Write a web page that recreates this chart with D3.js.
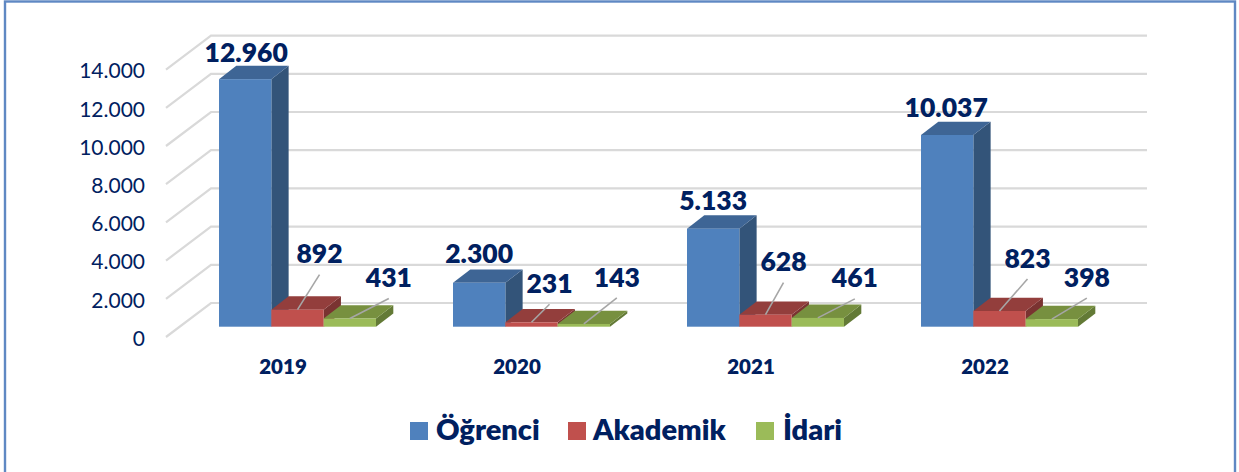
<!DOCTYPE html>
<html><head><meta charset="utf-8">
<script src="https://cdn.jsdelivr.net/npm/d3@7/dist/d3.min.js"></script>
<style>html,body{margin:0;padding:0;background:#fff;overflow:hidden}svg{display:block}text{font-family:Lato,sans-serif;fill:#002060}</style>
</head><body><script>
const years = ["2019","2020","2021","2022"];
const seriesNames = ["Öğrenci","Akademik","İdari"];
const ogrenci = [12960,2300,5133,10037];
const akademik = [892,231,628,823];
const idari = [431,143,461,398];
const yTicks = [0,2000,4000,6000,8000,10000,12000,14000];
const frontColors = ["#4f81bd","#c0504d","#9bbb59"];
const topColors = ["#3e6595","#933e3c","#77903f"];
const sideColors = ["#335479","#7a3331","#637a36"];
const labelDx = [[1,0,0,-1],[22,18,18,28],[39,33,37,35]];
const labelDy = [[-27,-29,-28,-28],[-56,-39,-53,-53],[-41,-47,-40,-42]];

const W=1239,H=472;
const svg=d3.select("body").append("svg").attr("width",W).attr("height",H);
svg.append("rect").attr("x",5).attr("y",1.5).attr("width",1230).attr("height",480)
  .attr("fill","#fff").attr("stroke","#5f88c3").attr("stroke-width",2.4);

const frontY=d3.scaleLinear().domain([0,14000]).range([337,69.6]);
const frontX=d3.scaleBand().domain(years).range([166,1102]);
const depthX=45,depthY=34;
const fmt=d3.formatLocale({decimal:",",thousands:".",grouping:[3],currency:["",""]}).format(",d");

// gridlines (floor-wall)
const grid=svg.append("g").attr("fill","none").attr("stroke","#d9d9d9").attr("stroke-width",2.2);
yTicks.forEach(t=>{
  const y=frontY(t);
  grid.append("path").attr("d",d3.line()([[166,y],[166+depthX,y-depthY],[1147,y-depthY]]));
});

// axes
const ya=svg.append("g").attr("transform","translate(153,1.5)")
  .call(d3.axisLeft(frontY).tickValues(yTicks).tickSize(0).tickPadding(8).tickFormat(fmt));
ya.select(".domain").remove();
ya.selectAll("text").style("font-family","Lato,sans-serif").style("font-size","21px").attr("fill","#002060");
const xa=svg.append("g").attr("transform","translate(0,359)")
  .call(d3.axisBottom(frontX).tickSize(0).tickPadding(0));
xa.select(".domain").remove();
xa.selectAll("text").style("font-family","Lato,sans-serif").style("font-size","20.5px").style("font-weight","800").attr("fill","#002060");

// bars
const series=[ogrenci,akademik,idari];
const baseY=326.7;
const pxPerUnit=(frontY(0)-frontY(14000))/14000;
const barH=v=>v*pxPerUnit;
const barX=d3.scaleBand().domain(seriesNames).range([0,157]);
const groupLeft=y=>frontX(y)+53;
const dx=17.3,dy=13.3;
const bars=svg.append("g");
years.forEach((yr,i)=>{
  seriesNames.forEach((nm,s)=>{
    const v=series[s][i],x=groupLeft(yr)+barX(nm),w=barX.bandwidth(),t=baseY-barH(v);
    const g=bars.append("g");
    g.append("path").attr("fill",sideColors[s]).attr("d",d3.line()([[x+w,t],[x+w+dx,t-dy],[x+w+dx,baseY-dy],[x+w,baseY]])+"Z");
    g.append("path").attr("fill",topColors[s]).attr("d",d3.line()([[x,t],[x+dx,t-dy],[x+w+dx,t-dy],[x+w,t]])+"Z");
    g.append("rect").attr("x",x).attr("y",t).attr("width",w).attr("height",barH(v)).attr("fill",frontColors[s]);
  });
});

// labels and leaders
const labels=svg.append("g");
years.forEach((yr,i)=>{
  seriesNames.forEach((nm,s)=>{
    const v=series[s][i],w=barX.bandwidth(),cx=groupLeft(yr)+barX(nm)+w/2,t=baseY-barH(v);
    const lx=cx+labelDx[s][i],ly=t+labelDy[s][i];
    if(s>0) labels.append("line").attr("x1",cx).attr("y1",t).attr("x2",lx).attr("y2",ly+21)
      .attr("stroke","#a6a6a6").attr("stroke-width",1.6);
    labels.append("text").attr("x",lx).attr("y",ly).attr("dy","0.36em").attr("text-anchor","middle")
      .style("font-size","26.5px").style("font-weight","800").text(fmt(v));
  });
});

// legend
const legendSquareX=[410,568,756], legendTextX=[436,593,783];
const leg=svg.append("g");
seriesNames.forEach((nm,s)=>{
  leg.append("rect").attr("x",legendSquareX[s]).attr("y",422).attr("width",18).attr("height",18).attr("fill",frontColors[s]);
  leg.append("text").attr("x",legendTextX[s]).attr("y",440).style("font-size","29px").style("font-weight","800").text(nm);
});
</script></body></html>
